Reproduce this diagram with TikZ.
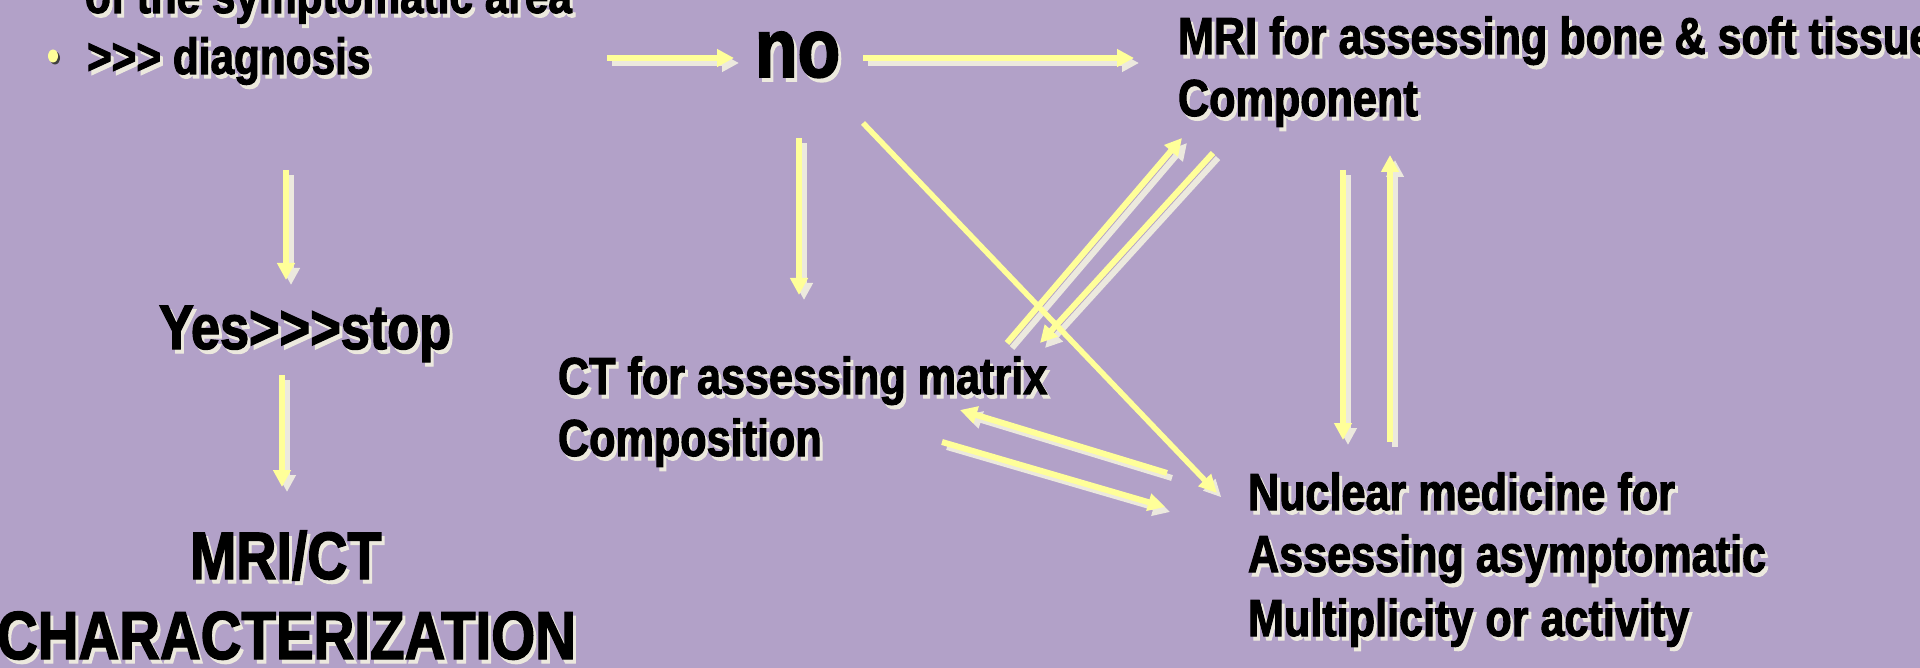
\documentclass[tikz,border=0pt]{standalone}
\usepackage{fontspec}
\setmainfont{Liberation Sans}[FakeStretch=0.83,FakeBold=2,Ligatures=TeXOff]
\usetikzlibrary{arrows.meta,calc}
\definecolor{bgc}{RGB}{178,161,200}
\definecolor{ay}{RGB}{255,255,153}
\definecolor{shc}{RGB}{236,233,222}
\newcommand\shtext[1]{\makebox[0pt][l]{\hspace{3pt}\raisebox{-4pt}{\textcolor{shc}{#1}}}#1}
\newcommand\sarrow[2]{\draw[ashd] ([shift={(5,5)}]#1) -- ([shift={(5,5)}]#2); \draw[arr] (#1) -- (#2);}
\begin{document}
\begin{tikzpicture}[x=1pt,y=-1pt,
  lbl/.style={inner sep=0pt,outer sep=0pt,anchor=base west},
  fa/.style={font=\bfseries\fontsize{51}{60}\selectfont},
  fb/.style={font=\bfseries\fontsize{52}{60}\selectfont},
  arr/.style={draw=ay,line width=6pt,-{Triangle[length=17pt,width=17pt]}},
  ashd/.style={draw=shc,line width=6pt,-{Triangle[length=17pt,width=17pt]}},
  thin/.style={draw=ay,line width=5.5pt,-{Triangle[length=18pt,width=17pt]}},
]
\useasboundingbox (0,0) rectangle (1920,668);
\fill[bgc] (0,0) rectangle (1920,668);

% texts
\node[lbl,fa] (top0) at (85,13) {\shtext{of the symptomatic area}};
\node[lbl,fa] (top1) at (87,74) {\shtext{>>> diagnosis}};
\fill[black!75] (55,58) ellipse [x radius=5, y radius=6.5];
\fill[ay] (53,56) ellipse [x radius=5, y radius=6.5];
\node[lbl,font=\bfseries\fontsize{84}{90}\selectfont] (no) at (755,77) {\shtext{no}};
\node[lbl,fb] (mri1) at (1178,54) {\shtext{MRI for assessing bone \& soft tissue}};
\node[lbl,fb] (mri2) at (1178,116) {\shtext{Component}};
\node[lbl,font=\bfseries\fontsize{63}{70}\selectfont] (yes) at (159,349) {\shtext{Yes>>>stop}};
\node[lbl,font=\bfseries\fontsize{67}{70}\selectfont] (mrict) at (190,579) {\shtext{MRI/CT}};
\node[lbl,font=\bfseries\fontsize{68}{70}\selectfont] (char) at (-3,659) {\shtext{CHARACTERIZATION}};
\node[lbl,fb] (ct1) at (558,394) {\shtext{CT for assessing matrix}};
\node[lbl,fb] (ct2) at (558,456) {\shtext{Composition}};
\node[lbl,fb] (nuc1) at (1248,510) {\shtext{Nuclear medicine for}};
\node[lbl,fb] (nuc2) at (1248,572) {\shtext{Assessing asymptomatic}};
\node[lbl,fb] (nuc3) at (1248,636) {\shtext{Multiplicity or activity}};

% arrow end points
\coordinate (a1s) at (607,58);   \coordinate (a1e) at (734,58);
\coordinate (a2s) at (863,58);   \coordinate (a2e) at (1134,58);
\coordinate (a3s) at (286,170);  \coordinate (a3e) at (286,280);
\coordinate (a4s) at (282,375);  \coordinate (a4e) at (282,487);
\coordinate (a5s) at (799,138);  \coordinate (a5e) at (799,295);
\coordinate (d1s) at (863,123);  \coordinate (d1e) at (1217,493);
\coordinate (a6s) at (1007,343); \coordinate (a6e) at (1182,138);
\coordinate (a7s) at (1213,153); \coordinate (a7e) at (1040,343);
\coordinate (a8s) at (1167,473); \coordinate (a8e) at (960,410);
\coordinate (a9s) at (942,442);  \coordinate (a9e) at (1165,507);
\coordinate (a10s) at (1343,170); \coordinate (a10e) at (1343,440);
\coordinate (a11s) at (1390,442); \coordinate (a11e) at (1390,155);

\sarrow{a1s}{a1e}
\sarrow{a2s}{a2e}
\sarrow{a3s}{a3e}
\sarrow{a4s}{a4e}
\sarrow{a5s}{a5e}
\sarrow{a6s}{a6e}
\sarrow{a7s}{a7e}
\sarrow{a8s}{a8e}
\sarrow{a9s}{a9e}
\sarrow{a10s}{a10e}
\sarrow{a11s}{a11e}
\draw[ashd,line width=1pt] ($(d1e)!18pt!(d1s)+(4,4)$) -- ($(d1e)+(4,4)$);
\draw[thin] (d1s) -- (d1e);
\end{tikzpicture}
\end{document}
